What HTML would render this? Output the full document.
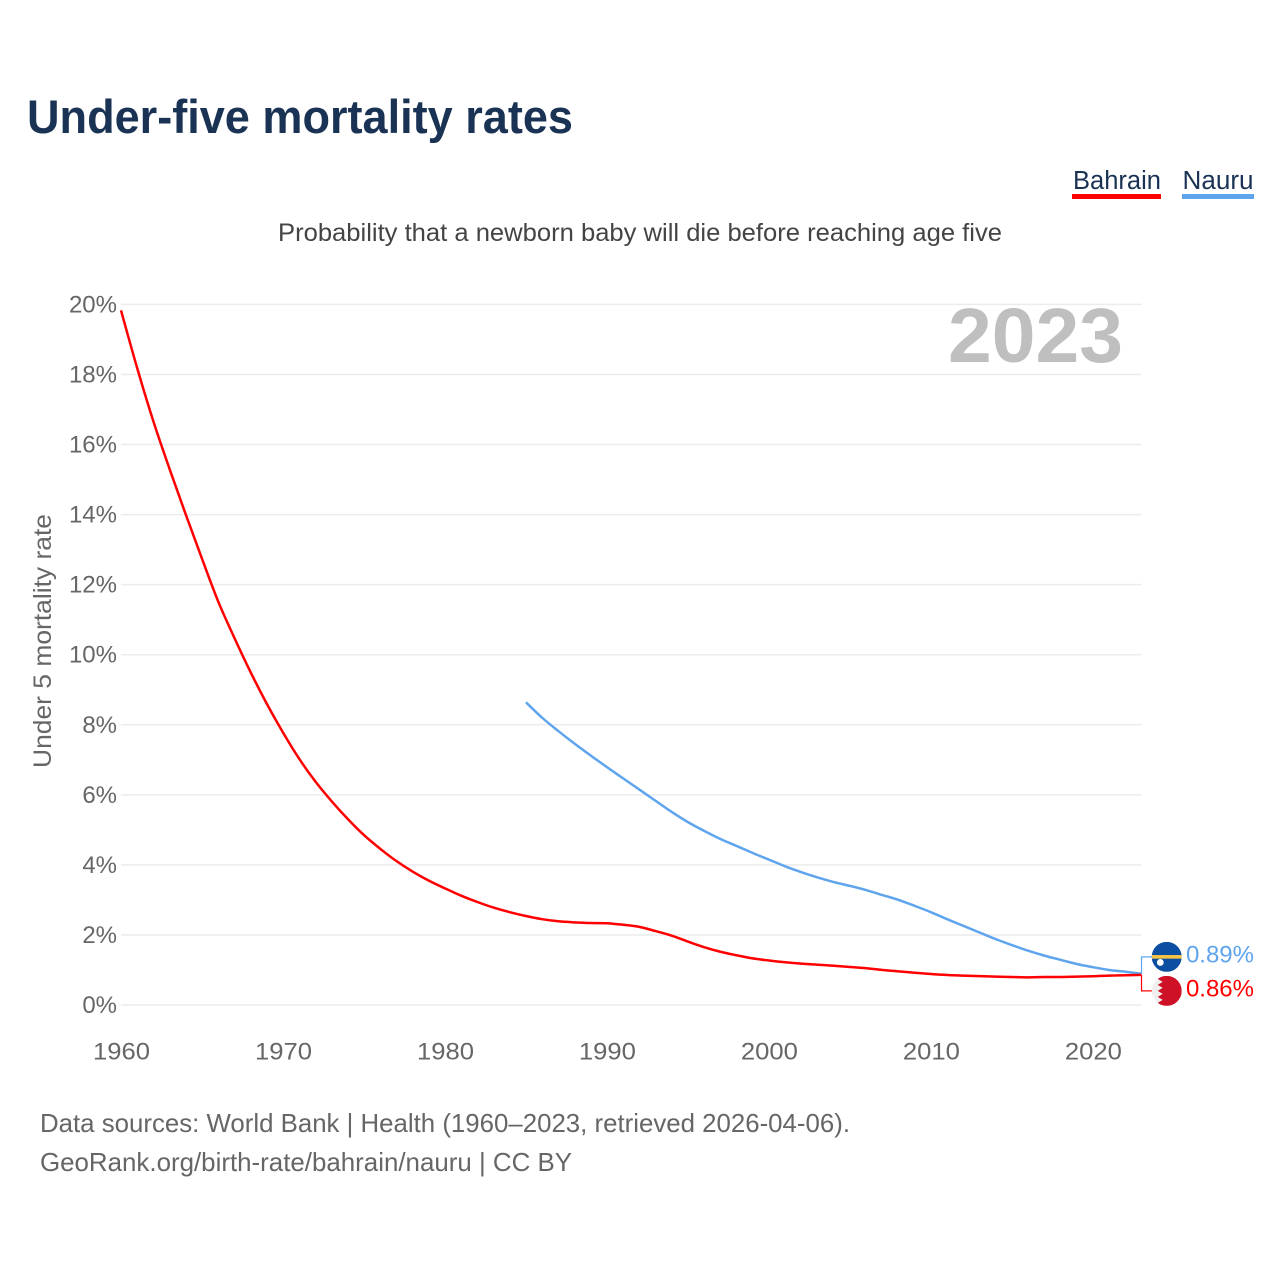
<!DOCTYPE html>
<html lang="en">
<head>
<meta charset="utf-8">
<title>Under-five mortality rates</title>
<style>
  html, body { margin: 0; padding: 0; background: #fff; }
  svg { display: block; font-family: "Liberation Sans", sans-serif; }
</style>
</head>
<body>
<svg id="chart" xmlns="http://www.w3.org/2000/svg" width="1280" height="1280" viewBox="0 0 1280 1280">
  <rect width="1280" height="1280" fill="#ffffff"/>
  <text x="27" y="133" font-size="47" font-weight="700" fill="#1a3354" textLength="546" lengthAdjust="spacingAndGlyphs">Under-five mortality rates</text>

  <g>
    <text x="1073" y="189" font-size="25.5" fill="#1a3354" textLength="88" lengthAdjust="spacingAndGlyphs">Bahrain</text>
    <rect x="1072" y="194" width="89" height="5" fill="#ff0000"/>
  </g>
  <g>
    <text x="1182.5" y="189" font-size="25.5" fill="#1a3354" textLength="71" lengthAdjust="spacingAndGlyphs">Nauru</text>
    <rect x="1182" y="194" width="72" height="5" fill="#5fa5ee"/>
  </g>

  <text x="278" y="241" font-size="25" fill="#444444" textLength="724" lengthAdjust="spacingAndGlyphs">Probability that a newborn baby will die before reaching age five</text>

  <g id="grid"></g>
  <g id="yTicks"></g>
  <g id="xTicks"></g>

  <text transform="translate(51,768) rotate(-90)" font-size="25" fill="#666666" textLength="254" lengthAdjust="spacingAndGlyphs">Under 5 mortality rate</text>

  <text x="948" y="362" font-size="77" font-weight="700" fill="#bfbfbf" textLength="175" lengthAdjust="spacingAndGlyphs">2023</text>

  <g id="series"></g>
  <g id="endLabels"></g>

  <text x="40" y="1132" font-size="26" fill="#666666" textLength="810" lengthAdjust="spacingAndGlyphs">Data sources: World Bank | Health (1960–2023, retrieved 2026-04-06).</text>
  <text x="40" y="1171" font-size="26" fill="#666666" textLength="532" lengthAdjust="spacingAndGlyphs">GeoRank.org/birth-rate/bahrain/nauru | CC BY</text>
</svg>

<script>
const yTickValues = [0, 2, 4, 6, 8, 10, 12, 14, 16, 18, 20];
const xTickYears = [1960, 1970, 1980, 1990, 2000, 2010, 2020];

const bahrainStartYear = 1960;
const bahrainValues = [
  19.83, 18.18, 16.66, 15.3, 14.0, 12.74, 11.52, 10.48, 9.5, 8.6,
  7.78, 7.03, 6.38, 5.82, 5.31, 4.85, 4.46, 4.11, 3.81, 3.55,
  3.33, 3.12, 2.94, 2.78, 2.65, 2.54, 2.45, 2.39, 2.36, 2.34,
  2.335, 2.29, 2.23, 2.11, 1.98, 1.81, 1.65, 1.52, 1.42, 1.33,
  1.27, 1.22, 1.18, 1.15, 1.12, 1.085, 1.05, 1.0, 0.96, 0.92,
  0.885, 0.857, 0.84, 0.825, 0.81, 0.8, 0.79, 0.8, 0.8, 0.81,
  0.82, 0.84, 0.85, 0.86
];

const nauruStartYear = 1985;
const nauruValues = [
  8.64, 8.2, 7.82, 7.46, 7.12, 6.79, 6.47, 6.15, 5.83, 5.51,
  5.22, 4.97, 4.74, 4.54, 4.34, 4.15, 3.96, 3.79, 3.64, 3.51,
  3.4, 3.28, 3.14, 3.0, 2.83, 2.65, 2.45, 2.26, 2.07, 1.88,
  1.71, 1.55, 1.41, 1.29, 1.17, 1.08, 1.0, 0.95, 0.89
];

const NS = 'http://www.w3.org/2000/svg';
const xMinYear = 1960, xMaxYear = 2023;
const plotLeft = 121, plotRight = 1141.5, plotBottom = 1005, plotTop = 304.4, yMax = 20;

function xScale(year) {
  return plotLeft + (year - xMinYear) / (xMaxYear - xMinYear) * (plotRight - plotLeft);
}
function yScale(value) {
  return plotBottom - value / yMax * (plotBottom - plotTop);
}
function make(tag, parent) {
  const el = document.createElementNS(NS, tag);
  parent.appendChild(el);
  return el;
}
/* Smooth curve through the yearly values (Catmull-Rom to Bezier). */
function linePath(startYear, values) {
  const pts = values.map(function (v, i) {
    return [xScale(startYear + i), yScale(v)];
  });
  let d = 'M' + pts[0][0].toFixed(2) + ' ' + pts[0][1].toFixed(2);
  for (let i = 0; i < pts.length - 1; i++) {
    const p0 = pts[Math.max(i - 1, 0)];
    const p1 = pts[i];
    const p2 = pts[i + 1];
    const p3 = pts[Math.min(i + 2, pts.length - 1)];
    const c1x = p1[0] + (p2[0] - p0[0]) / 6;
    const c1y = p1[1] + (p2[1] - p0[1]) / 6;
    const c2x = p2[0] - (p3[0] - p1[0]) / 6;
    const c2y = p2[1] - (p3[1] - p1[1]) / 6;
    d += ' C' + c1x.toFixed(2) + ' ' + c1y.toFixed(2) + ' ' + c2x.toFixed(2) + ' ' + c2y.toFixed(2) + ' ' + p2[0].toFixed(2) + ' ' + p2[1].toFixed(2);
  }
  return d;
}

const gridGroup = document.getElementById('grid');
const yTickGroup = document.getElementById('yTicks');
yTickValues.forEach(function (v) {
  const line = make('line', gridGroup);
  
  
  line.setAttribute('x1', plotLeft);
  line.setAttribute('x2', plotRight);
  line.setAttribute('y1', yScale(v));
  line.setAttribute('y2', yScale(v));
  line.setAttribute('stroke', '#ececec');
  line.setAttribute('stroke-width', '1.5');

  const label = make('text', yTickGroup);
  
  
  label.setAttribute('x', 117);
  label.setAttribute('y', yScale(v) + 8);
  label.setAttribute('text-anchor', 'end');
  label.setAttribute('font-size', '24');
  label.setAttribute('fill', '#666666');
  label.textContent = v + '%';
});

const xTickGroup = document.getElementById('xTicks');
xTickYears.forEach(function (year) {
  const label = make('text', xTickGroup);
  
  
  label.setAttribute('x', xScale(year) - 28);
  label.setAttribute('y', 1059.5);
  label.setAttribute('font-size', '24');
  label.setAttribute('fill', '#666666');
  label.setAttribute('textLength', '57');
  label.setAttribute('lengthAdjust', 'spacingAndGlyphs');
  label.textContent = String(year);
});

const seriesGroup = document.getElementById('series');

const nauruLine = make('path', seriesGroup);


nauruLine.setAttribute('d', linePath(nauruStartYear, nauruValues));
nauruLine.setAttribute('fill', 'none');
nauruLine.setAttribute('stroke', '#5fa5ee');
nauruLine.setAttribute('stroke-width', '2.5');
nauruLine.setAttribute('stroke-linejoin', 'round');

const bahrainLine = make('path', seriesGroup);


bahrainLine.setAttribute('d', linePath(bahrainStartYear, bahrainValues));
bahrainLine.setAttribute('fill', 'none');
bahrainLine.setAttribute('stroke', '#ff0000');
bahrainLine.setAttribute('stroke-width', '2.5');
bahrainLine.setAttribute('stroke-linejoin', 'round');

/* End-of-line connectors, flags and value labels */
const nauruLast = nauruValues[nauruValues.length - 1];
const bahrainLast = bahrainValues[bahrainValues.length - 1];
const nauruEndY = yScale(nauruLast);
const bahrainEndY = yScale(bahrainLast);
const labelMid = (nauruEndY + bahrainEndY) / 2;
const nauruLabelY = labelMid - 17.5;
const bahrainLabelY = labelMid + 16.5;
const labelsGroup = document.getElementById('endLabels');
const flagX = 1166.7;

const nauruConnector = make('path', labelsGroup);


nauruConnector.setAttribute('d', 'M' + plotRight + ' ' + nauruEndY + ' V' + nauruLabelY + ' H1152');
nauruConnector.setAttribute('fill', 'none');
nauruConnector.setAttribute('stroke', '#5fa5ee');
nauruConnector.setAttribute('stroke-width', '1.2');

const bahrainConnector = make('path', labelsGroup);


bahrainConnector.setAttribute('d', 'M' + plotRight + ' ' + bahrainEndY + ' V' + bahrainLabelY + ' H1152');
bahrainConnector.setAttribute('fill', 'none');
bahrainConnector.setAttribute('stroke', '#ff0000');
bahrainConnector.setAttribute('stroke-width', '1.2');

/* Nauru flag */
const nauruFlag = make('g', labelsGroup);


nauruFlag.setAttribute('transform', 'translate(' + flagX + ',' + nauruLabelY + ')');
nauruFlag.innerHTML =
  '<clipPath id="nauruClip"><circle r="15"/></clipPath>' +
  '<g clip-path="url(#nauruClip)">' +
  '<rect x="-15" y="-15" width="30" height="30" fill="#0b4ea2"/>' +
  '<rect x="-15" y="-1.8" width="30" height="3.6" fill="#f5c445"/>' +
  '<circle cx="-6.4" cy="5.6" r="3.4" fill="#ffffff"/>' +
  '</g>';

/* Bahrain flag */
const bahrainFlag = make('g', labelsGroup);


bahrainFlag.setAttribute('transform', 'translate(' + flagX + ',' + bahrainLabelY + ')');
bahrainFlag.innerHTML =
  '<clipPath id="bahrainClip"><circle r="15"/></clipPath>' +
  '<g clip-path="url(#bahrainClip)">' +
  '<rect x="-15" y="-15" width="30" height="30" fill="#efefef"/>' +
  '<path d="M-5 -15 L-9 -12 L-4 -9 L-9 -6 L-4 -3 L-9 0 L-4 3 L-9 6 L-4 9 L-9 12 L-5 15 L15 15 L15 -15 Z" fill="#ce1126"/>' +
  '</g>';

const nauruValueLabel = make('text', labelsGroup);


nauruValueLabel.setAttribute('x', 1254);
nauruValueLabel.setAttribute('y', nauruLabelY + 5.5);
nauruValueLabel.setAttribute('text-anchor', 'end');
nauruValueLabel.setAttribute('font-size', '24');
nauruValueLabel.setAttribute('fill', '#5fa5ee');
nauruValueLabel.textContent = nauruLast.toFixed(2) + '%';

const bahrainValueLabel = make('text', labelsGroup);


bahrainValueLabel.setAttribute('x', 1254);
bahrainValueLabel.setAttribute('y', bahrainLabelY + 5.5);
bahrainValueLabel.setAttribute('text-anchor', 'end');
bahrainValueLabel.setAttribute('font-size', '24');
bahrainValueLabel.setAttribute('fill', '#ff0000');
bahrainValueLabel.textContent = bahrainLast.toFixed(2) + '%';
</script>
</body>
</html>
